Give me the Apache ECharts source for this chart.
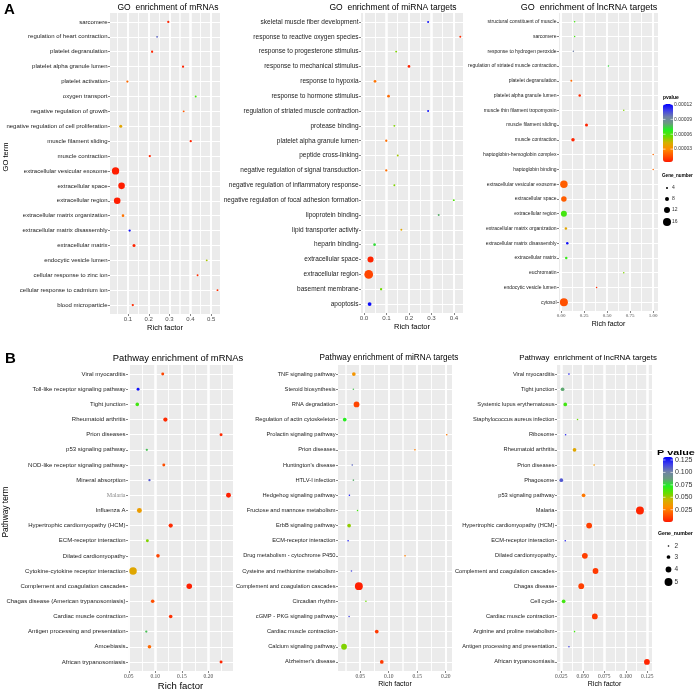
<!DOCTYPE html>
<html><head><meta charset="utf-8">
<script src="https://cdn.jsdelivr.net/npm/echarts@6/dist/echarts.min.js"></script>
<style>html,body{margin:0;padding:0;background:#fff}#c{width:700px;height:695px}</style>
</head><body><div id="c"></div>
<script>
// ---------- DATA ----------
const goMrnaTerms = ["sarcomere","regulation of heart contraction","platelet degranulation","platelet alpha granule lumen","platelet activation","oxygen transport","negative regulation of growth","negative regulation of cell proliferation","muscle filament sliding","muscle contraction","extracellular vesicular exosome","extracellular space","extracellular region","extracellular matrix organization","extracellular matrix disassembly","extracellular matrix","endocytic vesicle lumen","cellular response to zinc ion","cellular response to cadmium ion","blood microparticle"];
const goMrnaRich = [0.294,0.240,0.216,0.365,0.097,0.426,0.368,0.065,0.402,0.205,0.040,0.069,0.048,0.076,0.108,0.129,0.479,0.435,0.531,0.123];
const goMrnaP = [6.3e-6,1.0e-4,6.3e-6,6.3e-6,2.2e-5,6.25e-5,1.8e-5,3.9e-5,6.3e-6,6.3e-6,4.6e-6,4.6e-6,4.6e-6,2.4e-5,1.175e-4,6.3e-6,4.85e-5,8.7e-6,8.7e-6,7.5e-6];
const goMrnaGenes = [3,2,3,3,3,2,2,5,3,3,17,15,15,4,3,5,2,2,2,3];

const goMirnaTerms = ["skeletal muscle fiber development","response to reactive oxygen species","response to progesterone stimulus","response to mechanical stimulus","response to hypoxia","response to hormone stimulus","regulation of striated muscle contraction","protease binding","platelet alpha granule lumen","peptide cross-linking","negative regulation of signal transduction","negative regulation of inflammatory response","negative regulation of focal adhesion formation","lipoprotein binding","lipid transporter activity","heparin binding","extracellular space","extracellular region","basement membrane","apoptosis"];
const goMirnaRich = [0.285,0.428,0.143,0.200,0.049,0.109,0.285,0.135,0.099,0.150,0.099,0.135,0.399,0.332,0.166,0.047,0.029,0.021,0.076,0.025];
const goMirnaP = [1.18e-4,7.5e-6,5.3e-5,6.3e-6,2.4e-5,2.2e-5,1.18e-4,5.3e-5,2.3e-5,4.9e-5,2.3e-5,5.3e-5,6.0e-5,7.9e-5,3.9e-5,7.2e-5,6.3e-6,1.34e-5,5.5e-5,1.19e-4];
const goMirnaGenes = [2,2,2,4,4,4,2,2,3,2,3,2,2,2,2,4,13,20,3,7];

const goLncTerms = ["structural constituent of muscle","sarcomere","response to hydrogen peroxide","regulation of striated muscle contraction","platelet degranulation","platelet alpha granule lumen","muscle thin filament tropomyosin","muscle filament sliding","muscle contraction","haptoglobin-hemoglobin complex","haptoglobin binding","extracellular vesicular exosome","extracellular space","extracellular region","extracellular matrix organization","extracellular matrix disassembly","extracellular matrix","euchromatin","endocytic vesicle lumen","cytosol"];
const goLncRich = [0.146,0.146,0.132,0.513,0.110,0.201,0.680,0.275,0.128,1.0,1.0,0.029,0.029,0.029,0.051,0.066,0.055,0.680,0.385,0.029];
const goLncP = [6.25e-5,6.25e-5,9.5e-5,7.2e-5,2.2e-5,7.5e-6,5.3e-5,6.3e-6,6.3e-6,2.2e-5,2.2e-5,1.9e-5,1.9e-5,6.25e-5,3.9e-5,1.18e-4,6.5e-5,5.3e-5,7.5e-6,1.6e-5];
const goLncGenes = [3,3,3,3,4,5,3,6,7,2,2,15,11,12,5,5,5,3,3,16];

const pathMrnaTerms = ["Viral myocarditis","Toll-like receptor signaling pathway","Tight junction","Rheumatoid arthritis","Prion diseases","p53 signaling pathway","NOD-like receptor signaling pathway","Mineral absorption","Malaria","Influenza A","Hypertrophic cardiomyopathy (HCM)","ECM-receptor interaction","Dilated cardiomyopathy","Cytokine-cytokine receptor interaction","Complement and coagulation cascades","Chagas disease (American trypanosomiasis)","Cardiac muscle contraction","Antigen processing and presentation","Amoebiasis","African trypanosomiasis"];
const pathMrnaRich = [0.114,0.0675,0.066,0.119,0.224,0.084,0.116,0.089,0.238,0.070,0.129,0.085,0.105,0.058,0.164,0.095,0.129,0.083,0.089,0.224];
const pathMrnaP = [0.011,0.127,0.066,0.0042,0.0042,0.081,0.013,0.111,0.0016,0.036,0.0042,0.055,0.011,0.04,0.0016,0.013,0.0055,0.081,0.02,0.0029];
const pathMrnaGenes = [3,3,4,5,3,2,3,2,6,6,5,3,4,10,7,4,4,2,4,3];

const pathMirnaTerms = ["TNF signaling pathway","Steroid biosynthesis","RNA degradation","Regulation of actin cytoskeleton","Prolactin signaling pathway","Prion diseases","Huntington's disease","HTLV-I infection","Hedgehog signaling pathway","Fructose and mannose metabolism","ErbB signaling pathway","ECM-receptor interaction","Drug metabolism - cytochrome P450","Cysteine and methionine metabolism","Complement and coagulation cascades","Circadian rhythm","cGMP - PKG signaling pathway","Cardiac muscle contraction","Calcium signaling pathway","Alzheimer's disease"];
const pathMirnaRich = [0.0388,0.038,0.0435,0.0228,0.2018,0.146,0.036,0.038,0.031,0.0453,0.0305,0.0287,0.1286,0.0346,0.0476,0.060,0.0305,0.079,0.0216,0.0878];
const pathMirnaP = [0.033,0.081,0.011,0.072,0.024,0.026,0.1075,0.084,0.125,0.066,0.053,0.125,0.026,0.115,0.0016,0.058,0.115,0.008,0.055,0.008];
const pathMirnaGenes = [3,2,4,3,2,2,2,2,2,2,3,2,2,2,5,2,2,3,4,3];

const pathLncTerms = ["Viral myocarditis","Tight junction","Systemic lupus erythematosus","Staphylococcus aureus infection","Ribosome","Rheumatoid arthritis","Prion diseases","Phagosome","p53 signaling pathway","Malaria","Hypertrophic cardiomyopathy (HCM)","ECM-receptor interaction","Dilated cardiomyopathy","Complement and coagulation cascades","Chagas disease","Cell cycle","Cardiac muscle contraction","Arginine and proline metabolism","Antigen processing and presentation","African trypanosomiasis"];
const pathLncRich = [0.0339,0.0265,0.0296,0.0439,0.030,0.0404,0.0632,0.025,0.0509,0.1165,0.0574,0.0296,0.0524,0.0648,0.0482,0.0277,0.064,0.0404,0.0339,0.1246];
const pathLncP = [0.122,0.085,0.066,0.058,0.122,0.04,0.033,0.111,0.024,0.0029,0.0095,0.122,0.0095,0.008,0.0095,0.066,0.008,0.066,0.115,0.0029];
const pathLncGenes = [2,3,3,2,2,3,2,3,3,5,4,2,4,4,4,3,4,2,2,4];

// tick labels
const goMrnaTicks = [0.1,0.2,0.3,0.4,0.5];
const goMirnaTicks = [0.0,0.1,0.2,0.3,0.4];
const goLncTicks = [0.00,0.25,0.50,0.75,1.00];
const pathMrnaTicks = [0.05,0.10,0.15,0.20];
const pathMirnaTicks = [0.05,0.10,0.15,0.20];
const pathLncTicks = [0.025,0.050,0.075,0.100,0.125];
const goPvalueTicks = [0.00003,0.00006,0.00009,0.00012];
const pathPvalueTicks = [0.025,0.050,0.075,0.100,0.125];
const goGeneLegend = [4,8,12,16];
const pathGeneLegend = [2,3,4,5];

// ---------- LAYOUT / STYLE ----------
const SANS = 'Liberation Sans', SERIF = 'Liberation Serif';
const palette = ['#FF1A00','#FF5500','#FF8C00','#D4B000','#66DD00','#22EE22','#6A9A80','#7080A8','#4040E8','#0000FF'];
const goVM = {min:4e-6, max:1.21e-4, left:663, top:104, w:10, h:58};
const pathVM = {min:0.0003, max:0.131, left:663, top:457, w:10, h:65};
const goSize = g => Math.max(1.5, 0.5*g);
const pathSize = g => Math.max(1.6, 2.1*g - 2.6);

const panels = [
 {terms:goMrnaTerms, rich:goMrnaRich, p:goMrnaP, genes:goMrnaGenes, ticks:goMrnaTicks,
  grid:{left:110,top:13,width:110,height:301}, range:[0.0133,0.543], dec:1, tickFont:SANS, tickSize:6, labelSize:6,
  size:g=>1.2+0.36*g, nameSize:7.5, nameGap:10, title:'GO  enrichment of mRNAs', titleX:168, titleY:7.5, titleSize:8.5},
 {terms:goMirnaTerms, rich:goMirnaRich, p:goMirnaP, genes:goMirnaGenes, ticks:goMirnaTicks,
  grid:{left:361,top:13,width:102,height:300}, range:[-0.0133,0.44], dec:1, tickFont:SANS, tickSize:6.2, labelSize:6.5,
  size:g=>1.2+0.375*g, nameSize:7.5, nameGap:10, title:'GO  enrichment of miRNA targets', titleX:393, titleY:7.5, titleSize:8.5},
 {terms:goLncTerms, rich:goLncRich, p:goLncP, genes:goLncGenes, ticks:goLncTicks,
  grid:{left:559,top:13,width:99,height:298}, range:[-0.024,1.052], dec:2, tickFont:SERIF, tickSize:5, labelSize:5,
  size:goSize, nameSize:7, nameGap:10, title:'GO  enrichment of lncRNA targets', titleX:589, titleY:7.5, titleSize:9},
 {terms:pathMrnaTerms, rich:pathMrnaRich, p:pathMrnaP, genes:pathMrnaGenes, ticks:pathMrnaTicks,
  grid:{left:128,top:365,width:105,height:306}, range:[0.0485,0.2465], dec:2, tickFont:SERIF, tickSize:5.5, labelSize:6,
  size:g=>1+0.65*g, nameSize:9.5, nameGap:10, title:'Pathway enrichment of mRNAs', titleX:178, titleY:358, titleSize:9.4},
 {terms:pathMirnaTerms, rich:pathMirnaRich, p:pathMirnaP, genes:pathMirnaGenes, ticks:pathMirnaTicks,
  grid:{left:338,top:365,width:114,height:306}, range:[0.011,0.211], dec:2, tickFont:SERIF, tickSize:5.5, labelSize:5.7,
  size:pathSize, nameSize:7, nameGap:10, title:'Pathway enrichment of miRNA targets', titleX:389, titleY:358, titleSize:8.2},
 {terms:pathLncTerms, rich:pathLncRich, p:pathLncP, genes:pathLncGenes, ticks:pathLncTicks,
  grid:{left:557,top:365,width:95,height:306}, range:[0.02,0.1305], dec:3, tickFont:SERIF, tickSize:5.5, labelSize:5.7,
  size:pathSize, nameSize:7, nameGap:10, title:'Pathway  enrichment of lncRNA targets', titleX:588, titleY:358, titleSize:7.9}
];

const grids=[], xAxes=[], yAxes=[], series=[], graphics=[], minors=[];
panels.forEach((pn,i)=>{
  const n = pn.terms.length;
  const idx = pn.terms.map((t,k)=>k);
  const step = pn.ticks[1]-pn.ticks[0];
  const minor = [];
  for (let k=-1;k<pn.ticks.length;k++){
    const v = +(pn.ticks[0] + step*(k+0.5)).toFixed(6);
    if (v>pn.range[0] && v<pn.range[1]) minor.push(v);
  }
  minors.push(minor);
  grids.push(Object.assign({show:true, backgroundColor:'#EBEBEB', borderWidth:0, containLabel:false, outerBoundsMode:'none'}, pn.grid));
  xAxes.push({gridIndex:i, type:'value', min:pn.range[0], max:pn.range[1], position:'bottom',
    axisLine:{show:false, onZero:false},
    axisTick:{show:true, length:2, lineStyle:{color:'#333', width:0.6}, customValues:pn.ticks},
    axisLabel:{customValues:pn.ticks, formatter:v=>Number(v).toFixed(pn.dec), fontSize:pn.tickSize, fontFamily:pn.tickFont, color:'#4d4d4d', margin:2.5},
    splitLine:{show:true, lineStyle:{color:'#ffffff', width:1.5, opacity:1}}, minorSplitLine:{show:false},
    name:'Rich factor', nameLocation:'middle', nameGap:pn.nameGap,
    nameTextStyle:{fontSize:pn.nameSize, fontFamily:SANS, color:'#000', verticalAlign:'top'}
  });
  xAxes.push({gridIndex:i, type:'value', min:pn.range[0], max:pn.range[1], position:'top',
    axisLine:{show:false, onZero:false},
    axisTick:{show:true, length:0, lineStyle:{color:'rgba(0,0,0,0)', width:0}, customValues:minor},
    axisLabel:{show:false, customValues:minor},
    splitLine:{show:true, lineStyle:{color:'#ffffff', width:0.7}}, minorSplitLine:{show:false}
  });
  const isMalariaSerif = (i===3);
  yAxes.push({gridIndex:i, type:'value', inverse:true, min:-0.6, max:n-0.4,
    axisLine:{show:false, onZero:false},
    axisTick:{show:true, length:2, lineStyle:{color:'#333', width:0.6}, customValues:idx},
    axisLabel:{customValues:idx, fontSize:pn.labelSize, fontFamily:SANS, color:'#222', margin:2.5,
      formatter:v=>{const t=pn.terms[Math.round(v)]; return (isMalariaSerif && t==='Malaria') ? '{ser|Malaria}' : t;},
      rich:{ser:{fontFamily:SERIF, color:'#888', fontSize:6}}},
    splitLine:{show:true, lineStyle:{color:'#fff', width:1}}
  });
  series.push({type:'scatter', xAxisIndex:2*i, yAxisIndex:i, silent:true, z:10,
    data: pn.terms.map((t,k)=>[pn.rich[k], k, pn.p[k], pn.genes[k]]),
    encode:{x:0, y:1},
    symbolSize: v=>pn.size(v[3]),
    itemStyle:{opacity:1}
  });
  graphics.push({type:'text', x:pn.titleX, y:pn.titleY, style:{text:pn.title, fontSize:pn.titleSize, fontFamily:SANS, fill:'#000', align:'center', verticalAlign:'middle'}});
});

// panel letters & axis titles
graphics.push({type:'text', x:4, y:2, style:{text:'A', fontSize:15, fontWeight:'bold', fontFamily:SANS, fill:'#000'}});
graphics.push({type:'text', x:5, y:351, style:{text:'B', fontSize:15, fontWeight:'bold', fontFamily:SANS, fill:'#000'}});
graphics.push({type:'text', x:6, y:157, rotation:Math.PI/2, style:{text:'GO term', fontSize:7.5, fontFamily:SANS, fill:'#000', align:'center', verticalAlign:'middle'}});
graphics.push({type:'text', x:6, y:512, rotation:Math.PI/2, style:{text:'Pathway term', fontSize:8.4, fontFamily:SANS, fill:'#000', align:'center', verticalAlign:'middle'}});

// colour-bar legends
function barY(vm, v){ return vm.top + vm.h*(1-(v-vm.min)/(vm.max-vm.min)); }
graphics.push({type:'text', x:663, y:98, style:{text:'pvalue', fontSize:5, fontWeight:'bold', fontFamily:SANS, fill:'#000', verticalAlign:'middle'}});
goPvalueTicks.forEach(v=>{
  const y = barY(goVM, v);
  graphics.push({type:'text', x:674, y:y, style:{text:v.toFixed(5), fontSize:5, fontFamily:SANS, fill:'#333', verticalAlign:'middle'}});
  graphics.push({type:'line', shape:{x1:goVM.left, y1:y, x2:goVM.left+2.5, y2:y}, style:{stroke:'#fff', lineWidth:0.6}, z:100});
  graphics.push({type:'line', shape:{x1:goVM.left+goVM.w-2.5, y1:y, x2:goVM.left+goVM.w, y2:y}, style:{stroke:'#fff', lineWidth:0.6}, z:100});
});
graphics.push({type:'text', x:657, y:452.5, scaleX:1.35, style:{text:'P value', fontSize:8, fontWeight:'bold', fontFamily:SANS, fill:'#000', verticalAlign:'middle'}});
pathPvalueTicks.forEach(v=>{
  const y = barY(pathVM, v);
  graphics.push({type:'text', x:675, y:y, style:{text:v.toFixed(3), fontSize:7, fontFamily:SANS, fill:'#333', verticalAlign:'middle'}});
  graphics.push({type:'line', shape:{x1:pathVM.left, y1:y, x2:pathVM.left+2.5, y2:y}, style:{stroke:'#fff', lineWidth:0.6}, z:100});
  graphics.push({type:'line', shape:{x1:pathVM.left+pathVM.w-2.5, y1:y, x2:pathVM.left+pathVM.w, y2:y}, style:{stroke:'#fff', lineWidth:0.6}, z:100});
});
// size legends
graphics.push({type:'text', x:662, y:176, style:{text:'Gene_number', fontSize:4.6, fontWeight:'bold', fontFamily:SANS, fill:'#000', verticalAlign:'middle'}});
[188,199,210,222].forEach((y,k)=>{
  graphics.push({type:'circle', shape:{cx:667, cy:y, r:goSize(goGeneLegend[k])/2}, style:{fill:'#000'}});
  graphics.push({type:'text', x:672, y:y, style:{text:String(goGeneLegend[k]), fontSize:5, fontFamily:SANS, fill:'#333', verticalAlign:'middle'}});
});
graphics.push({type:'text', x:658, y:534, style:{text:'Gene_number', fontSize:5.2, fontWeight:'bold', fontFamily:SANS, fill:'#000', verticalAlign:'middle'}});
[546,557,569.5,582].forEach((y,k)=>{
  graphics.push({type:'circle', shape:{cx:668.5, cy:y, r:pathSize(pathGeneLegend[k])/2}, style:{fill:'#000'}});
  graphics.push({type:'text', x:674.5, y:y, style:{text:String(pathGeneLegend[k]), fontSize:6.5, fontFamily:SANS, fill:'#333', verticalAlign:'middle'}});
});

const chart = echarts.init(document.getElementById('c'), null, {renderer:'canvas'});
chart.setOption({
  animation:false,
  backgroundColor:'#fff',
  grid:grids, xAxis:xAxes, yAxis:yAxes, series:series,
  visualMap:[
    {type:'continuous', seriesIndex:[0,1,2], dimension:2, min:goVM.min, max:goVM.max, inRange:{color:palette},
     calculable:false, show:true, left:goVM.left, top:goVM.top, itemWidth:goVM.w, itemHeight:goVM.h, padding:0, hoverLink:false, textStyle:{fontSize:1, color:'rgba(0,0,0,0)'}},
    {type:'continuous', seriesIndex:[3,4,5], dimension:2, min:pathVM.min, max:pathVM.max, inRange:{color:palette},
     calculable:false, show:true, left:pathVM.left, top:pathVM.top, itemWidth:pathVM.w, itemHeight:pathVM.h, padding:0, hoverLink:false, textStyle:{fontSize:1, color:'rgba(0,0,0,0)'}}
  ],
  graphic:graphics
});

// vertical panel grid lines placed through the axis scale (convertToPixel), under the points
const gridLines = [];
panels.forEach((pn,i)=>{
  const y1 = pn.grid.top, y2 = pn.grid.top + pn.grid.height;
  pn.ticks.filter(v=>v>pn.range[0] && v<pn.range[1]).forEach(v=>{
    const x = Math.round(chart.convertToPixel({xAxisIndex:2*i}, v));
    gridLines.push({type:'line', silent:true, z:1, shape:{x1:x, y1:y1, x2:x, y2:y2}, style:{stroke:'#ffffff', lineWidth:1.5}});
  });
  minors[i].forEach(v=>{
    const x = Math.floor(chart.convertToPixel({xAxisIndex:2*i}, v)) + 0.5;
    gridLines.push({type:'line', silent:true, z:1, shape:{x1:x, y1:y1, x2:x, y2:y2}, style:{stroke:'#ffffff', lineWidth:0.7}});
  });
});
chart.setOption({graphic: graphics.concat(gridLines)});
</script></body></html>
